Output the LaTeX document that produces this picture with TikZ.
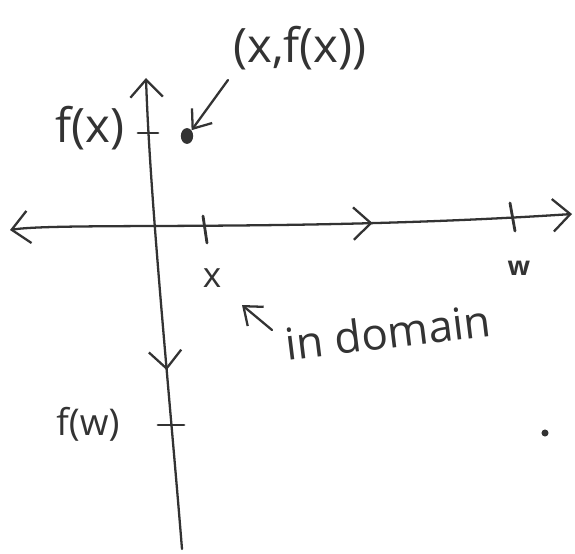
\documentclass[tikz,border=0pt]{standalone}
\usepackage{fontspec}
\setmainfont{Open Sans}
\usepackage{xcolor}
\usetikzlibrary{arrows.meta,decorations.markings,shapes.geometric}
\definecolor{ink}{HTML}{333333}

\begin{document}
\begin{tikzpicture}[x=0.02cm,y=-0.02cm,
  hand/.tip={Straight Barb[length=3.5mm,width=6.5mm,line width=1.3pt]},
  axis/.style={line width=1.3pt,draw=ink,line cap=round},
  arr/.style={axis,-{Straight Barb[length=3.2mm,width=5mm,line width=1.3pt]}},
  lbl/.style={text=ink,inner sep=1pt},
  tick/.style={line width=1.6pt,draw=ink,line cap=round}]
  \useasboundingbox (0,0) rectangle (575,554);

  % axes
  \coordinate (ytop) at (146,78);
  \coordinate (ybot) at (182,549);
  \coordinate (xleft) at (10,230);
  \coordinate (xright) at (572,214);
  \draw[axis,hand-,
    postaction={decorate,decoration={markings,mark=at position 0.62 with {\arrow[ink]{hand}}}}]
    (ytop) .. controls (150,200) and (170,400) .. (ybot);
  \draw[axis,hand-hand,
    postaction={decorate,decoration={markings,mark=at position 0.645 with {\arrow[ink]{hand}}}}]
    (xleft) .. controls (60,222) and (300,232) .. (xright);

  % ticks
  \draw[tick] (138,133) -- (158,133);
  \draw[tick] (203,216) -- (207,243);
  \draw[tick] (510,203) -- (515,231);
  \draw[tick] (158,425) -- (184,425);

  % points
  \node[fill=ink,ellipse,minimum width=7pt,minimum height=9pt,inner sep=0pt] (pt) at (187,136) {};
  \node[fill=ink,circle,minimum size=4pt,inner sep=0pt] (ptw) at (545,433) {};

  % labels
  \node[lbl,font=\fontsize{27}{30}\selectfont] (fx) at (90,128) {f(x)};
  \node[lbl,font=\fontsize{27}{30}\selectfont] (xfx) at (300,48) {(x,f(x))};
  \node[lbl,font=\fontsize{20}{24}\selectfont] (xl) at (212,278) {x};
  \node[lbl,font=\fontsize{15}{18}\selectfont\bfseries] (wl) at (519,268) {w};
  \node[lbl,font=\fontsize{25}{30}\selectfont,rotate=7] (dom) at (388,332) {in domain};
  \node[lbl,font=\fontsize{21}{24}\selectfont] (fw) at (88,424) {f(w)};

  \coordinate (a1) at (228,80);
  \draw[arr] (a1) -- (pt.north east);
  \coordinate (a2) at (272,330);
  \coordinate (a3) at (242,305);
  \draw[arr] (a2) -- (a3);
\end{tikzpicture}
\end{document}
